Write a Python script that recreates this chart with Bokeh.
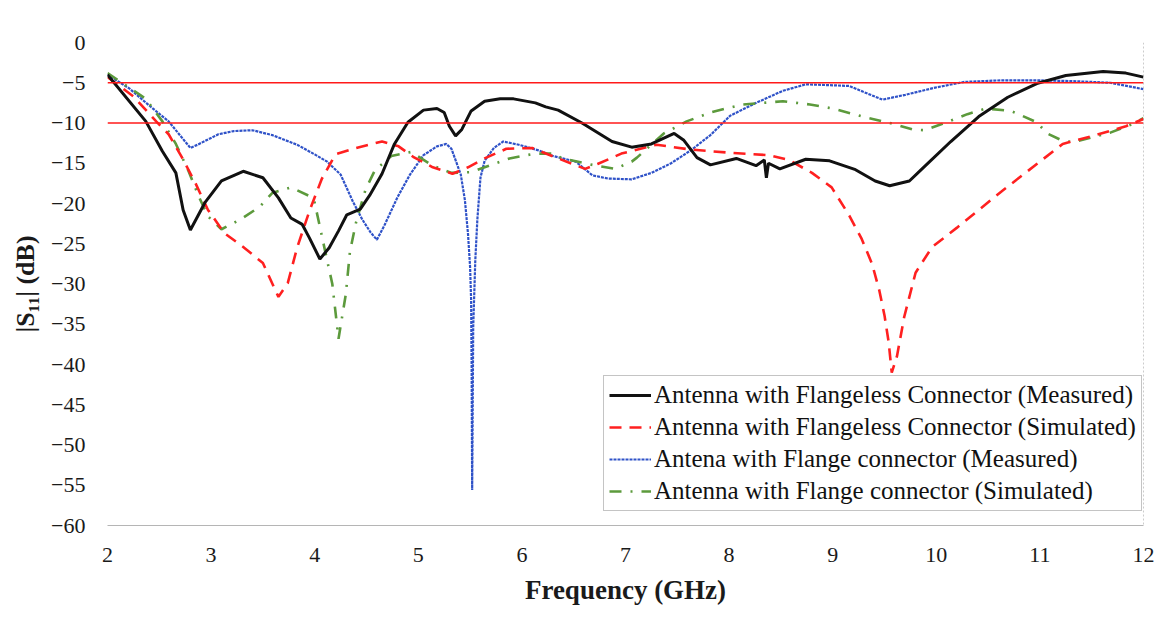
from bokeh.plotting import figure
from bokeh.models import Span, FixedTicker, Legend, LegendItem, Range1d
from bokeh.embed import file_html
from bokeh.resources import INLINE

# |S11| of the antenna with flangeless / flange connectors, 2-12 GHz
freq_meas_flangeless = [2.0, 2.37, 2.53, 2.66, 2.73, 2.80, 2.94, 3.10, 3.31, 3.50, 3.65, 3.77, 3.88, 3.95,
                        4.05, 4.14, 4.23, 4.31, 4.44, 4.53, 4.65, 4.77, 4.90, 5.05, 5.18, 5.25, 5.30, 5.36,
                        5.42, 5.51, 5.64, 5.79, 5.92, 6.13, 6.23, 6.35, 6.58, 6.87, 7.06, 7.25, 7.47, 7.56,
                        7.69, 7.82, 8.07, 8.26, 8.34, 8.36, 8.38, 8.49, 8.74, 8.97, 9.22, 9.41, 9.55, 9.74,
                        9.87, 10.14, 10.41, 10.69, 10.97, 11.25, 11.61, 11.83, 12.0]
s11_meas_flangeless = [-4.0, -9.8, -13.5, -16.2, -20.8, -23.3, -19.9, -17.2, -16.0, -16.8, -19.3, -21.8, -22.6, -24.3,
                       -26.9, -25.5, -23.4, -21.4, -20.7, -19.0, -16.3, -12.6, -9.9, -8.4, -8.2, -8.7, -10.4, -11.6,
                       -10.8, -8.5, -7.3, -7.0, -7.0, -7.5, -8.0, -8.4, -10.0, -12.3, -13.0, -12.6, -11.3, -12.1,
                       -14.3, -15.2, -14.4, -15.3, -14.6, -16.8, -15.0, -15.7, -14.5, -14.7, -15.8, -17.2, -17.8, -17.2,
                       -15.6, -12.3, -9.2, -6.8, -5.1, -4.1, -3.6, -3.8, -4.3]

freq_sim_flangeless = [2.0, 2.25, 2.47, 2.59, 2.72, 2.85, 2.97, 3.13, 3.31, 3.50, 3.65, 3.74, 3.83, 3.95,
                       4.07, 4.20, 4.40, 4.65, 4.81, 4.95, 5.14, 5.33, 5.48, 5.64, 5.85, 6.10, 6.35, 6.61,
                       6.73, 6.96, 7.30, 7.63, 8.01, 8.39, 8.58, 8.80, 8.99, 9.16, 9.28, 9.38, 9.45, 9.50,
                       9.54, 9.57, 9.62, 9.69, 9.80, 9.96, 10.20, 10.41, 10.62, 10.97, 11.22, 11.54, 11.83, 12.0]
s11_sim_flangeless = [-4.3, -6.7, -9.8, -11.4, -14.3, -17.5, -20.8, -23.7, -25.4, -27.4, -31.6, -29.9, -25.5, -20.9,
                      -16.9, -13.9, -13.1, -12.3, -12.9, -14.2, -15.5, -16.3, -15.5, -14.4, -13.2, -13.1, -14.4, -15.7,
                      -15.1, -13.8, -12.7, -13.3, -13.7, -14.0, -14.6, -16.2, -18.0, -21.5, -24.4, -27.5, -30.8, -33.9,
                      -37.2, -41.0, -39.0, -34.1, -28.6, -25.4, -23.0, -20.8, -18.6, -15.1, -12.6, -11.5, -10.4, -9.5]

freq_meas_flange = [2.0, 2.21, 2.40, 2.59, 2.80, 2.87, 3.07, 3.22, 3.40, 3.59, 3.83, 4.0, 4.12, 4.25,
                    4.37, 4.46, 4.54, 4.60, 4.67, 4.80, 4.92, 5.05, 5.18, 5.27, 5.32, 5.41, 5.45, 5.48,
                    5.50, 5.51, 5.515, 5.52, 5.53, 5.55, 5.57, 5.60, 5.64, 5.73, 5.82, 5.97, 6.16, 6.30,
                    6.52, 6.68, 6.83, 7.06, 7.25, 7.44, 7.63, 7.82, 8.01, 8.26, 8.52, 8.74, 8.97, 9.16,
                    9.29, 9.48, 9.70, 9.99, 10.27, 10.62, 10.97, 11.32, 11.68, 12.0]
s11_meas_flange = [-4.0, -5.7, -7.8, -9.8, -13.1, -12.7, -11.4, -11.0, -10.9, -11.5, -12.7, -13.9, -14.8, -16.4,
                   -19.8, -22.0, -23.6, -24.5, -22.8, -19.2, -16.4, -14.0, -12.9, -12.6, -13.2, -16.4, -19.6, -23.8,
                   -27.9, -32.0, -40.4, -55.6, -35.4, -27.1, -22.0, -16.8, -14.7, -13.1, -12.3, -12.7, -13.4, -14.1,
                   -14.8, -16.5, -16.9, -17.0, -16.2, -15.0, -13.4, -11.5, -9.1, -7.5, -6.0, -5.2, -5.3, -5.4,
                   -6.1, -7.1, -6.5, -5.6, -4.9, -4.7, -4.7, -4.8, -5.0, -5.8]

freq_sim_flange = [2.0, 2.37, 2.53, 2.66, 2.78, 2.88, 2.97, 3.10, 3.28, 3.47, 3.59, 3.77, 3.97, 4.0,
                   4.07, 4.17, 4.23, 4.30, 4.34, 4.40, 4.49, 4.58, 4.74, 4.93, 5.14, 5.32, 5.51, 5.64,
                   5.88, 6.13, 6.30, 6.39, 6.68, 6.90, 7.06, 7.11, 7.37, 7.59, 7.82, 7.97, 8.13, 8.52,
                   8.78, 9.0, 9.29, 9.55, 9.77, 9.89, 10.06, 10.30, 10.48, 10.72, 10.97, 11.07, 11.22, 11.32,
                   11.68, 11.90, 12.0]
s11_sim_flange = [-3.8, -7.0, -9.8, -12.6, -15.9, -19.1, -21.6, -23.2, -22.0, -20.4, -18.7, -18.0, -19.2, -19.9,
                  -24.1, -30.0, -36.8, -31.3, -26.0, -22.3, -18.3, -15.9, -14.1, -13.6, -15.3, -16.2, -16.1, -15.5,
                  -14.4, -13.8, -13.8, -14.4, -15.2, -15.7, -14.8, -14.3, -11.3, -9.8, -8.7, -8.2, -7.7, -7.3,
                  -7.7, -8.2, -9.2, -10.0, -10.8, -10.9, -10.1, -8.9, -8.2, -8.5, -9.9, -11.3, -12.2, -12.4,
                  -11.2, -10.1, -9.4]

thresholds_db = [-5, -10]
x_ticks = [2, 3, 4, 5, 6, 7, 8, 9, 10, 11, 12]
y_ticks = [0, -5, -10, -15, -20, -25, -30, -35, -40, -45, -50, -55, -60]

series_names = [
    "Antenna with Flangeless Connector (Measured)",
    "Antenna with Flangeless Connector (Simulated)",
    "Antena with Flange connector (Measured)",
    "Antenna with Flange connector (Simulated)",
]

SERIF = "Liberation Serif"

p = figure(width=1171, height=619, output_backend="svg", toolbar_location=None,
           x_range=Range1d(2, 12), y_range=Range1d(-60, 0),
           min_border_left=107, min_border_right=28, min_border_top=42, min_border_bottom=94)
p.outline_line_color = None
p.xgrid.visible = False
p.ygrid.visible = False
p.background_fill_color = "white"
p.border_fill_color = "white"

# threshold lines
for t in thresholds_db:
    p.add_layout(Span(location=t, dimension="width", line_color="#ff1a1a", line_width=1.6))

# right-hand plot border
p.add_layout(Span(location=12, dimension="height", line_color="#9a9a9a", line_width=1, line_dash="2 2"))

r_blue = p.line(freq_meas_flange, s11_meas_flange, line_color="#2f52c8", line_width=2.2, line_dash="3 1")
r_green = p.line(freq_sim_flange, s11_sim_flange, line_color="#5c9a3c", line_width=2.6, line_dash="12 9 2 9")
r_red = p.line(freq_sim_flangeless, s11_sim_flangeless, line_color="#ff2020", line_width=2.6, line_dash="12 8")
r_black = p.line(freq_meas_flangeless, s11_meas_flangeless, line_color="#111111", line_width=3)

legend = Legend(items=[
    LegendItem(label=series_names[0], renderers=[r_black]),
    LegendItem(label=series_names[1], renderers=[r_red]),
    LegendItem(label=series_names[2], renderers=[r_blue]),
    LegendItem(label=series_names[3], renderers=[r_green]),
], location=(496, 14))
legend.label_text_font = SERIF
legend.label_text_font_size = "25px"
legend.label_text_color = "#111111"
legend.glyph_width = 42
legend.glyph_height = 24
legend.label_height = 24
legend.label_standoff = 3
legend.spacing = 4
legend.padding = 5
legend.margin = 0
legend.border_line_color = "#8a8a8a"
legend.border_line_width = 1
legend.background_fill_alpha = 1
p.add_layout(legend)

# axes
p.xaxis.ticker = FixedTicker(ticks=x_ticks)
p.yaxis.ticker = FixedTicker(ticks=y_ticks)
for ax in (p.xaxis[0], p.yaxis[0]):
    ax.major_label_text_font = SERIF
    ax.major_label_text_font_size = "22px"
    ax.major_label_text_color = "#1a1a1a"
    ax.major_tick_line_color = None
    ax.minor_tick_line_color = None
    ax.axis_label_text_font = SERIF
    ax.axis_label_text_font_style = "bold"
    ax.axis_label_text_color = "#1a1a1a"

p.xaxis.axis_line_color = "#b5b5b5"
p.xaxis.major_label_standoff = 16
p.xaxis.axis_label = "Frequency (GHz)"
p.xaxis.axis_label_text_font_size = "27px"
p.xaxis.axis_label_standoff = 10

p.yaxis.axis_line_color = None
p.yaxis.major_label_standoff = 16
p.yaxis.axis_label = "|S\u2081\u2081| (dB)"
p.yaxis.axis_label_text_font_size = "26px"
p.yaxis.axis_label_standoff = 8

open("out.html", "w").write(file_html(p, INLINE))
